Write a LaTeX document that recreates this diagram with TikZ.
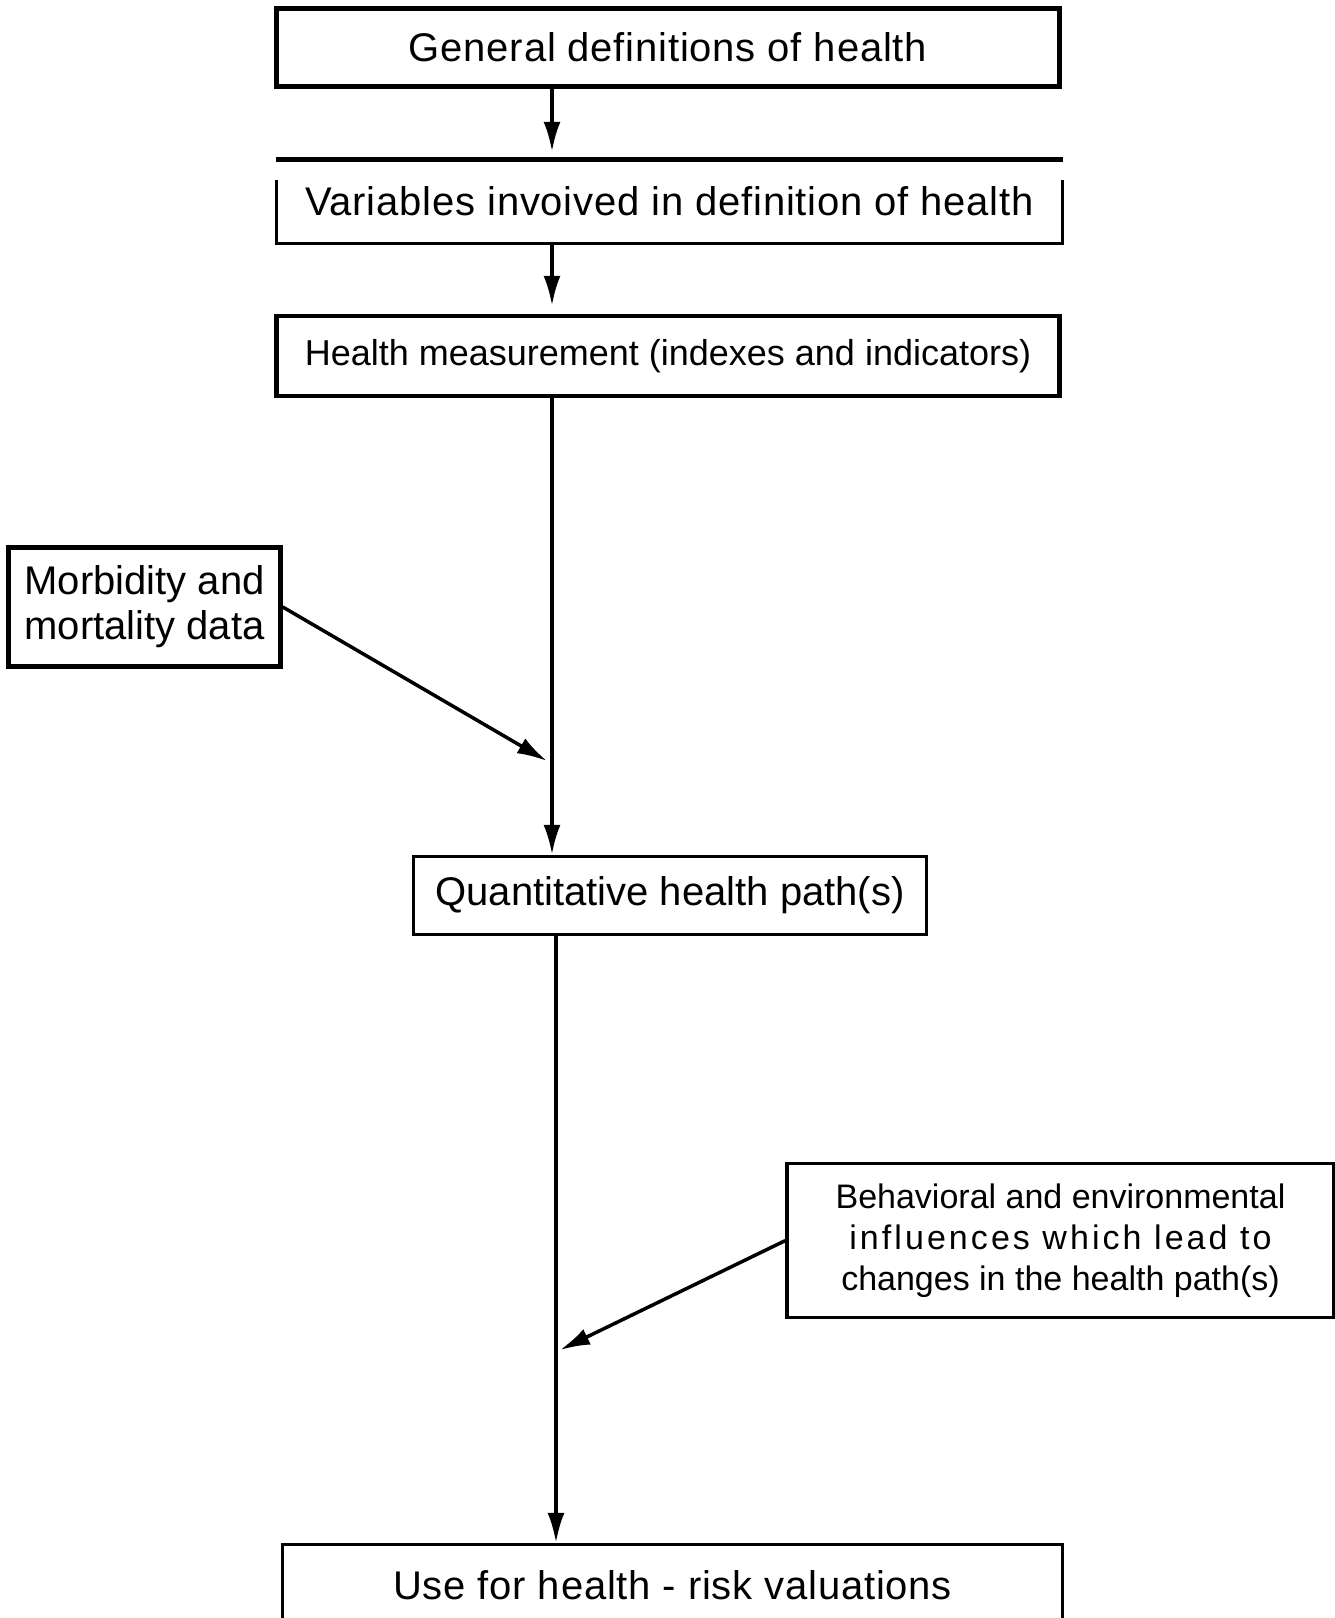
\documentclass[tikz,border=0pt]{standalone}
\usepackage{fontspec}
\setmainfont{Liberation Sans}
\usetikzlibrary{arrows.meta,positioning}

\tikzset{
  box/.style={draw, line width=4.5pt, inner sep=0pt, align=center, font=\fontsize{40}{48}\selectfont},
  wide/.style={font=\fontsize{40}{48}\selectfont\addfontfeature{LetterSpace=2}},
  flow/.style={line width=3.5pt, -{Latex[length=30pt,width=17pt]}},
}

\begin{document}
\begin{tikzpicture}[x=1pt,y=-1pt]
    \fill[white] (0,0) rectangle (1335,1618);
    \useasboundingbox (0,0) rectangle (1335,1618);
    \node[box, wide, minimum width=783pt, minimum height=78pt] (gen) at (668,47.5) {General definitions of health};
    \node[box, wide, draw=none, minimum width=782pt, minimum height=79pt] (var) at (669.6,201.5) {Variables invoived in definition of health};
    \node[box, font=\fontsize{36}{43}\selectfont, minimum width=783pt, minimum height=80pt] (meas) at (668,356) {Health measurement (indexes and indicators)};
    \node[box, font=\fontsize{40}{45}\selectfont, minimum width=272pt, minimum height=119pt] (morb) at (144.5,607) {Morbidity and\\mortality data};
    \node[box, line width=3.5pt, minimum width=513pt, minimum height=78pt] (qhp) at (670,895.5) {Quantitative health path(s)};
    \node[box, line width=3.5pt, font=\fontsize{34}{41}\selectfont, minimum width=547pt, minimum height=154pt] (behav) at (1060.5,1240.6) {Behavioral and environmental\\{\addfontfeature{LetterSpace=9}influences which lead to}\\changes in the health path(s)};
    \node[box, wide, line width=3.5pt, minimum width=780pt, minimum height=82pt] (use) at (672.6,1585.6) {Use for health - risk valuations};
    \draw[line width=5pt] (var.north west) -- (var.north east);
    \draw[line width=3pt] ([yshift=-20pt]var.north west) -- (var.south west) -- (var.south east) -- ([yshift=-20pt]var.north east);
    \coordinate (up) at (552,0);
    \coordinate (lo) at (556,0);
    \coordinate (morb-in) at (547,761);
    \coordinate (behav-in) at (560,1350);
    \draw[flow, shorten >=8pt] (gen.south -| up) -- (var.north -| up);
    \draw[flow, shorten >=8pt] (var.south -| up) -- (meas.north -| up);
    \draw[flow] (meas.south -| up) -- (qhp.north -| up);
    \draw[flow] (qhp.south -| lo) -- (use.north -| lo);
    \draw[flow] (morb.east) -- (morb-in);
    \draw[flow] (behav.west) -- (behav-in);
\end{tikzpicture}
\end{document}
